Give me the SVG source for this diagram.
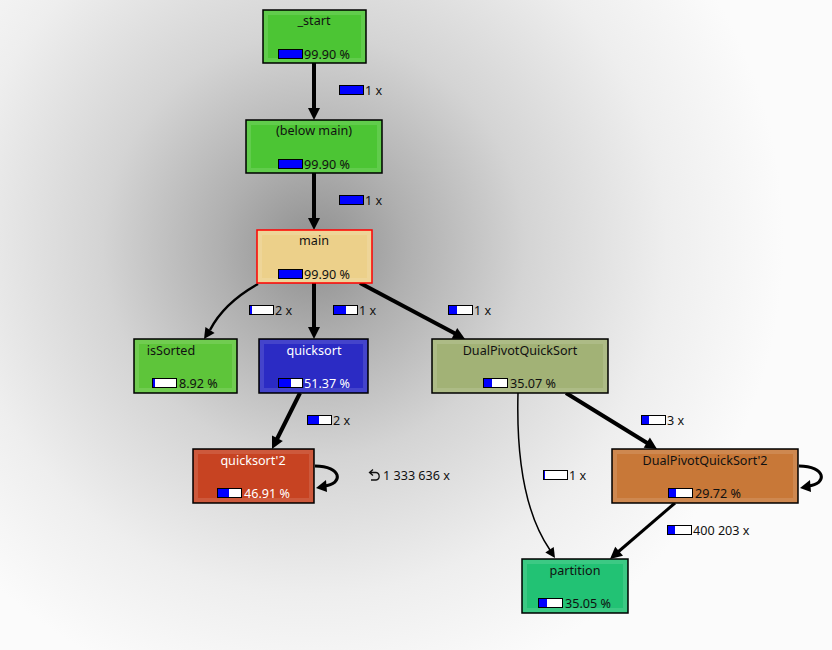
<svg xmlns="http://www.w3.org/2000/svg" width="832" height="650" viewBox="0 0 832 650">
<defs>
<radialGradient id="bg" gradientUnits="userSpaceOnUse" cx="314" cy="240" r="470" fx="314" fy="250">
<stop offset="0" stop-color="#8e8e8e"/>
<stop offset="0.2" stop-color="#b0b0b0"/>
<stop offset="0.45" stop-color="#d4d4d4"/>
<stop offset="0.75" stop-color="#eeeeee"/>
<stop offset="1" stop-color="#fbfbfb"/>
</radialGradient>
<style>
text{font-family:"Noto Sans","DejaVu Sans",sans-serif;font-size:12.6px;fill:#111}
.t{text-anchor:middle}
.w{fill:#ffffff}
.box{stroke:#000;stroke-width:1.5}
.inner{fill:none;stroke:#ffffff;stroke-opacity:0.12;stroke-width:4}
.bar{fill:#ffffff;stroke:#000;stroke-width:1}
.fill{fill:#0000ff}
.e{fill:none;stroke:#000}
.ah{fill:#000}
</style>
</defs>
<rect x="0" y="0" width="832" height="650" fill="url(#bg)"/>

<g id="connectors">
<line class="e" x1="314" y1="63" x2="314" y2="110" stroke-width="4"/>
<polygon class="ah" points="314,120 308,108 320,108"/>
<line class="e" x1="314" y1="173" x2="314" y2="220" stroke-width="4"/>
<polygon class="ah" points="314,230 308,218 320,218"/>
<line class="e" x1="314" y1="283" x2="314" y2="329" stroke-width="4"/>
<polygon class="ah" points="314,339 308,327 320,327"/>
<path class="e" d="M258,284 Q224,303 210,330" stroke-width="2.5"/>
<polygon class="ah" points="204,339 214.6,333 205.4,327"/>
<line class="e" x1="360" y1="283" x2="456" y2="334" stroke-width="4"/>
<polygon class="ah" points="465,339 451.6,338.7 457.2,328.1"/>
<line class="e" x1="300" y1="393" x2="277" y2="439" stroke-width="4"/>
<polygon class="ah" points="272,449 282.8,441 272,435.6"/>
<line class="e" x1="566" y1="393" x2="648" y2="443.5" stroke-width="4"/>
<polygon class="ah" points="657,449 643.7,447.8 649.9,437.6"/>
<line class="e" x1="675" y1="503" x2="618" y2="552" stroke-width="3"/>
<polygon class="ah" points="610,559 623,555.7 615.2,546.7"/>
<path class="e" d="M518,393 C516,468 528,518 550,550" stroke-width="1.5"/>
<polygon class="ah" points="555,558 545.3,552.5 553.7,546.9"/>
<path class="e" d="M315,466 C342,466 344,484 324,486" stroke-width="3"/>
<polygon class="ah" points="316,488 326,480 327,492"/>
<path class="e" d="M799,466 C826,466 828,484 808,486" stroke-width="3"/>
<polygon class="ah" points="800,488 810,480 811,492"/>
</g>

<g id="edge-labels">
<rect class="bar" x="339.5" y="85.5" width="24" height="9"/><rect class="fill" x="340" y="86" width="23" height="8"/><text x="365" y="95">1 x</text>
<rect class="bar" x="339.5" y="195.5" width="24" height="9"/><rect class="fill" x="340" y="196" width="23" height="8"/><text x="365" y="205">1 x</text>
<rect class="bar" x="249.5" y="305.5" width="24" height="9"/><rect class="fill" x="250" y="306" width="2" height="8"/><text x="275" y="315">2 x</text>
<rect class="bar" x="333.5" y="305.5" width="24" height="9"/><rect class="fill" x="334" y="306" width="12" height="8"/><text x="359" y="315">1 x</text>
<rect class="bar" x="448.5" y="305.5" width="24" height="9"/><rect class="fill" x="449" y="306" width="8" height="8"/><text x="474" y="315">1 x</text>
<rect class="bar" x="307.5" y="415.5" width="24" height="9"/><rect class="fill" x="308" y="416" width="11" height="8"/><text x="333" y="425">2 x</text>
<rect class="bar" x="641.5" y="415.5" width="24" height="9"/><rect class="fill" x="642" y="416" width="7" height="8"/><text x="667" y="425">3 x</text>
<rect class="bar" x="543.5" y="470.5" width="24" height="9"/><rect class="fill" x="544" y="471" width="1" height="8"/><text x="569" y="480">1 x</text>
<rect class="bar" x="667.5" y="525.5" width="24" height="9"/><rect class="fill" x="668" y="526" width="7" height="8"/><text x="693" y="535">400 203 x</text>
<path d="M373,469.5 L369.5,472.5 L373,475.5 M370,472.5 L376,472.5 A3.8,3.8 0 0 1 376,480 L371,480" fill="none" stroke="#111" stroke-width="1.3"/>
<text x="383" y="480">1 333 636 x</text>
</g>

<g id="node-start">
<rect class="box" x="263" y="10" width="103" height="53" fill="#4cc534"/>
<rect class="inner" x="266" y="13" width="97" height="47"/>
<text class="t" x="314" y="25">_start</text>
<rect class="bar" x="278.5" y="49.5" width="24" height="9"/><rect class="fill" x="279" y="50" width="23" height="8"/>
<text x="304" y="59">99.90 %</text>
</g>

<g id="node-below-main">
<rect class="box" x="246" y="120" width="136" height="53" fill="#4cc534"/>
<rect class="inner" x="249" y="123" width="130" height="47"/>
<text class="t" x="314" y="135">(below main)</text>
<rect class="bar" x="278.5" y="159.5" width="24" height="9"/><rect class="fill" x="279" y="160" width="23" height="8"/>
<text x="304" y="169">99.90 %</text>
</g>

<g id="node-main">
<rect x="257" y="230" width="115" height="53" fill="#ecd08a" stroke="#ff0000" stroke-width="1.5"/>
<rect class="inner" x="260" y="233" width="109" height="47"/>
<text class="t" x="314" y="245">main</text>
<rect class="bar" x="278.5" y="269.5" width="24" height="9"/><rect class="fill" x="279" y="270" width="23" height="8"/>
<text x="304" y="279">99.90 %</text>
</g>

<g id="node-isSorted">
<rect class="box" x="134" y="339" width="103" height="54" fill="#5ec53a"/>
<rect class="inner" x="137" y="342" width="97" height="48"/>
<text class="t" x="171" y="355">isSorted</text>
<rect class="bar" x="152.5" y="378.5" width="24" height="9"/><rect class="fill" x="153" y="379" width="2" height="8"/>
<text x="179" y="388">8.92 %</text>
</g>

<g id="node-quicksort">
<rect class="box" x="259" y="339" width="109" height="54" fill="#2b2bc4"/>
<rect class="inner" x="262" y="342" width="103" height="48"/>
<text class="t w" x="314" y="355">quicksort</text>
<rect class="bar" x="278.5" y="378.5" width="24" height="9"/><rect class="fill" x="279" y="379" width="12" height="8"/>
<text class="w" x="304" y="388">51.37 %</text>
</g>

<g id="node-DualPivotQuickSort">
<rect class="box" x="432" y="339" width="176" height="54" fill="#a2b276"/>
<rect class="inner" x="435" y="342" width="170" height="48"/>
<text class="t" x="520" y="355">DualPivotQuickSort</text>
<rect class="bar" x="483.5" y="378.5" width="24" height="9"/><rect class="fill" x="484" y="379" width="8" height="8"/>
<text x="510" y="388">35.07 %</text>
</g>

<g id="node-quicksort2">
<rect class="box" x="193" y="449" width="121" height="54" fill="#c74322"/>
<rect class="inner" x="196" y="452" width="115" height="48"/>
<text class="t w" x="253" y="465">quicksort'2</text>
<rect class="bar" x="217.5" y="488.5" width="24" height="9"/><rect class="fill" x="218" y="489" width="11" height="8"/>
<text class="w" x="244" y="498">46.91 %</text>
</g>

<g id="node-DualPivotQuickSort2">
<rect class="box" x="612" y="449" width="186" height="54" fill="#c87838"/>
<rect class="inner" x="615" y="452" width="180" height="48"/>
<text class="t" x="705" y="465">DualPivotQuickSort'2</text>
<rect class="bar" x="668.5" y="488.5" width="24" height="9"/><rect class="fill" x="669" y="489" width="7" height="8"/>
<text x="695" y="498">29.72 %</text>
</g>

<g id="node-partition">
<rect class="box" x="522" y="559" width="106" height="54" fill="#22c274"/>
<rect class="inner" x="525" y="562" width="100" height="48"/>
<text class="t" x="575" y="575">partition</text>
<rect class="bar" x="538.5" y="598.5" width="24" height="9"/><rect class="fill" x="539" y="599" width="8" height="8"/>
<text x="565" y="608">35.05 %</text>
</g>
</svg>
